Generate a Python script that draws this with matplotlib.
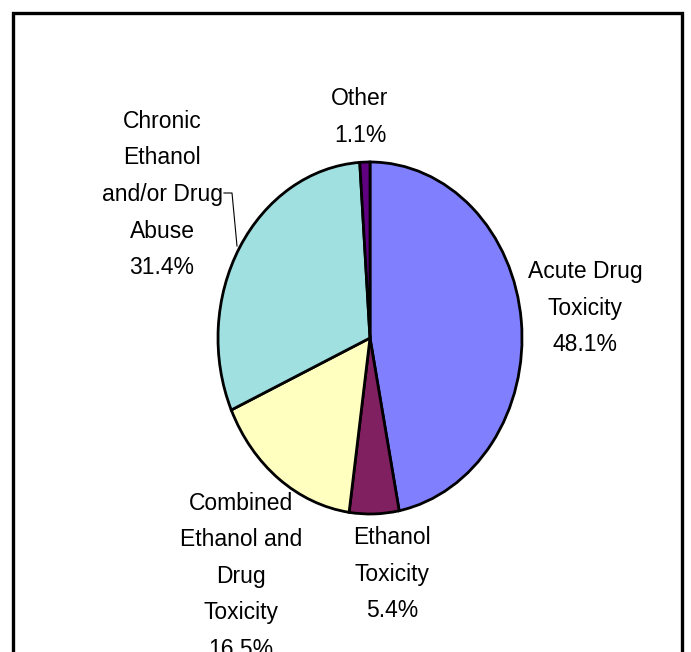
import matplotlib.pyplot as plt
from matplotlib.patches import Rectangle

# slice names (with the line breaks used on the chart) and percentages
names = ['Acute Drug\nToxicity', 'Ethanol\nToxicity', 'Combined\nEthanol and\nDrug\nToxicity',
         'Chronic\nEthanol\nand/or Drug\nAbuse', 'Other']
values = [48.1, 5.4, 16.5, 31.4, 1.1]
colors = ['#8080FF', '#802060', '#FFFFC0', '#A0E0E0', '#600080']

# label anchor points in pixels (top of first line, centre x)
label_pos = [(585, 260), (392, 526), (241, 492), (162, 110), (360, 87)]

W, H = 691, 652
CX, CY = 370, 338      # pie centre, pixels from top
RX, RY = 152, 176      # pie radii, pixels

plt.rcParams['font.family'] = ['Liberation Sans', 'DejaVu Sans']

fig = plt.figure(figsize=(W / 100, H / 100), dpi=100)
ax = fig.add_axes([0, 0, 1, 1])

wedges, _ = ax.pie(values, colors=colors, startangle=90, counterclock=False,
                   wedgeprops=dict(edgecolor='black', linewidth=2))
ax.set_aspect('auto')
ax.set_xlim(-CX / RX, (W - CX) / RX)
ax.set_ylim(-(H - CY) / RY, CY / RY)
ax.axis('off')


def px(x, y):
    return (x - CX) / RX, (CY - y) / RY


for name, val, (x, y) in zip(names, values, label_pos):
    tx, ty = px(x, y)
    ax.text(tx, ty, f'{name}\n{val:.1f}%', ha='center', va='top',
            fontsize=16.5, linespacing=1.75, clip_on=False)

# leader line for the chronic abuse label
lx, ly = zip(px(224, 193), px(232, 193), px(237, 246))
ax.plot(lx, ly, color='black', linewidth=0.8)

# outer frame, open at the bottom edge
fig.patches.append(Rectangle((13 / W, -0.05), (682 - 13) / W, 1.05 - 13 / H,
                             transform=fig.transFigure, fill=False,
                             edgecolor='black', linewidth=2.4))

fig.savefig('out.png', dpi=100)
